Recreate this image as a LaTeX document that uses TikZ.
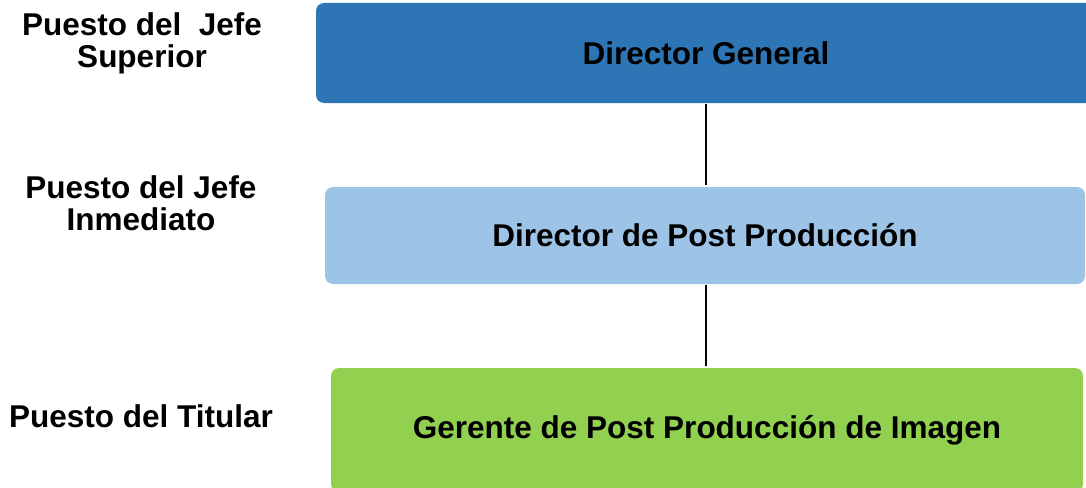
\documentclass[tikz,border=0pt]{standalone}
\usepackage{fontspec}
\setmainfont{Liberation Sans}
\usetikzlibrary{positioning}
\definecolor{superiorblue}{RGB}{46,117,182}
\definecolor{inmediatoblue}{RGB}{157,195,230}
\definecolor{titulargreen}{RGB}{146,208,80}

\begin{document}
\begin{tikzpicture}[x=1pt,y=-1pt,
    puesto/.style={rectangle,rounded corners=8pt,inner sep=0pt,
      font=\fontsize{31.5}{32}\selectfont\bfseries},
    etiqueta/.style={align=center,inner sep=0pt,
      font=\fontsize{31.5}{32}\selectfont\bfseries},
    linea/.style={draw=black,line width=1.3pt,shorten <=1pt,shorten >=2pt}]
    \useasboundingbox (0,0) rectangle (1086,487);
    \clip (0,0) rectangle (1086,487);

    % Levels on the left
    \node[etiqueta] (lsup) at (142,43) {Puesto del~ Jefe\\Superior};
    \node[etiqueta] (linm) at (141,203) {Puesto del Jefe\\Inmediato};
    \node[etiqueta] (ltit) at (141,416) {Puesto del Titular};

    % Boxes
    \node[puesto,fill=superiorblue,minimum width=780,minimum height=100]
      (dg) at (706,53) {Director General};
    \node[puesto,fill=inmediatoblue,minimum width=760,minimum height=97]
      (dpp) at (705,235.5) {Director de Post Producción};
    \node[puesto,fill=titulargreen,minimum width=752,minimum height=124]
      (gppi) at (707,430) {Gerente de Post Producción de Imagen};

    % Connectors
    \draw[linea] (dg.south) -- (dg.south |- dpp.north);
    \draw[linea] (dg.south |- dpp.south) -- (dg.south |- gppi.north);
  \end{tikzpicture}
\end{document}
